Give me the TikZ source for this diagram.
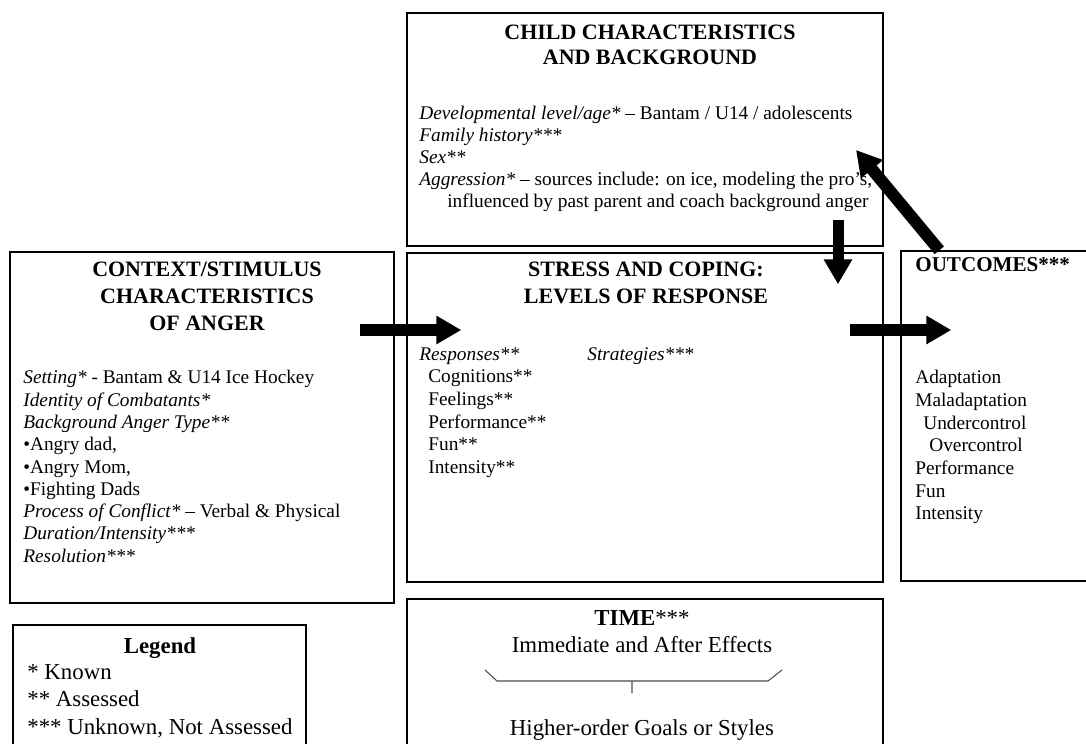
\documentclass[tikz,border=0pt]{standalone}
\usepackage{fontspec}
\setmainfont{Liberation Serif}
\usetikzlibrary{arrows.meta,fit}

\begin{document}
\begin{tikzpicture}[x=0.02cm,y=-0.02cm,
  box/.style={draw,line width=0.8pt,inner sep=0pt},
  head/.style={font=\fontsize{12.5}{15.3}\selectfont\bfseries,align=center,inner sep=0pt,anchor=north},
  body/.style={font=\fontsize{11}{12.7}\selectfont,align=left,inner sep=0pt,anchor=north west},
  big/.style={font=\fontsize{13}{15.6}\selectfont,inner sep=0pt},
  fat/.style={line width=0.24cm,-{Triangle[length=0.5cm,width=0.54cm]}}]

  \useasboundingbox (0,0) rectangle (1086,744);

  % boxes
  \node[box,fit={(407,13) (883,246)}] (child) {};
  \node[box,fit={(10,252) (394,603)}] (ctx) {};
  \node[box,fit={(407,253) (883,582)}] (stress) {};
  \node[box,fit={(901,251) (1100,581)}] (outc) {};
  \node[box,fit={(13,625) (306,760)}] (legend) {};
  \node[box,fit={(407,599) (883,760)}] (time) {};

  % child characteristics
  \node[head,font=\fontsize{12.5}{14.2}\selectfont\bfseries] (childhead) at (650,25) {CHILD CHARACTERISTICS\\AND BACKGROUND};
  \node[body,font=\fontsize{11}{12.5}\selectfont] (childtext) at (419,106)
    {\textit{Developmental level/age*} – Bantam / U14 / adolescents\\
     \textit{Family history***}\\
     \textit{Sex**}\\
     \textit{Aggression*} – sources include: on ice, modeling the pro’s,\\
     \hspace*{0.56cm}influenced by past parent and coach background anger};

  % context / stimulus
  \node[head] (ctxhead) at (207,262) {CONTEXT/STIMULUS\\CHARACTERISTICS\\OF ANGER};
  \node[body] (ctxtext) at (23,370)
    {\textit{Setting*} - Bantam \& U14 Ice Hockey\\
     \textit{Identity of Combatants*}\\
     \textit{Background Anger Type**}\\
     \textbullet Angry dad,\\
     \textbullet Angry Mom,\\
     \textbullet Fighting Dads\\
     \textit{Process of Conflict*} – Verbal \& Physical\\
     \textit{Duration/Intensity***}\\
     \textit{Resolution***}};

  % stress and coping
  \node[head] (stresshead) at (646,262) {STRESS AND COPING:\\LEVELS OF RESPONSE};
  \node[body,font=\fontsize{11}{12.9}\selectfont] (resp) at (419,347)
    {\textit{Responses**}\\
     \hspace*{0.18cm}Cognitions**\\
     \hspace*{0.18cm}Feelings**\\
     \hspace*{0.18cm}Performance**\\
     \hspace*{0.18cm}Fun**\\
     \hspace*{0.18cm}Intensity**};
  \node[body] (strat) at (587,347) {\textit{Strategies***}};

  % outcomes
  \node[head,font=\fontsize{12}{14}\selectfont\bfseries,anchor=north west] (outhead) at (915,257) {OUTCOMES***};
  \node[body,font=\fontsize{11}{12.9}\selectfont] (outtext) at (915,370)
    {Adaptation\\
     Maladaptation\\
     \hspace*{0.16cm}Undercontrol\\
     \hspace*{0.28cm}Overcontrol\\
     Performance\\
     Fun\\
     Intensity};

  % legend
  \node[big,font=\fontsize{13}{15.6}\selectfont\bfseries,anchor=north] (leghead) at (160,637) {Legend};
  \node[big,align=left,anchor=north west] (legtext) at (27,664) {* Known\\** Assessed\\*** Unknown, Not Assessed};

  % time
  \node[big,align=center,anchor=north] (timehead) at (642,610) {\textbf{TIME}***\\Immediate and After Effects};
  \node[big,anchor=north] (goals) at (642,719) {Higher-order Goals or Styles};
  \draw[line width=0.6pt,black!70] (485,670) -- (497,681) -- (768,681) -- (782,670) (632,681) -- (632,693);

  % arrows
  \coordinate (arow) at (0,330);
  \coordinate (dcol) at (838,0);
  \coordinate (fbtip) at (856,150);
  \draw[fat,shorten <=-0.7cm,shorten >=-1.1cm] (ctx.east |- arow) -- (stress.west |- arow);
  \draw[fat,shorten <=-0.68cm,shorten >=-1.02cm] (stress.east |- arow) -- (outc.west |- arow);
  \draw[fat,line width=0.22cm,shorten <=-0.54cm,shorten >=-0.64cm] (child.south -| dcol) -- (stress.north -| dcol);
  \draw[fat] ([xshift=0.78cm]outc.north west) -- (fbtip);
\end{tikzpicture}
\end{document}
